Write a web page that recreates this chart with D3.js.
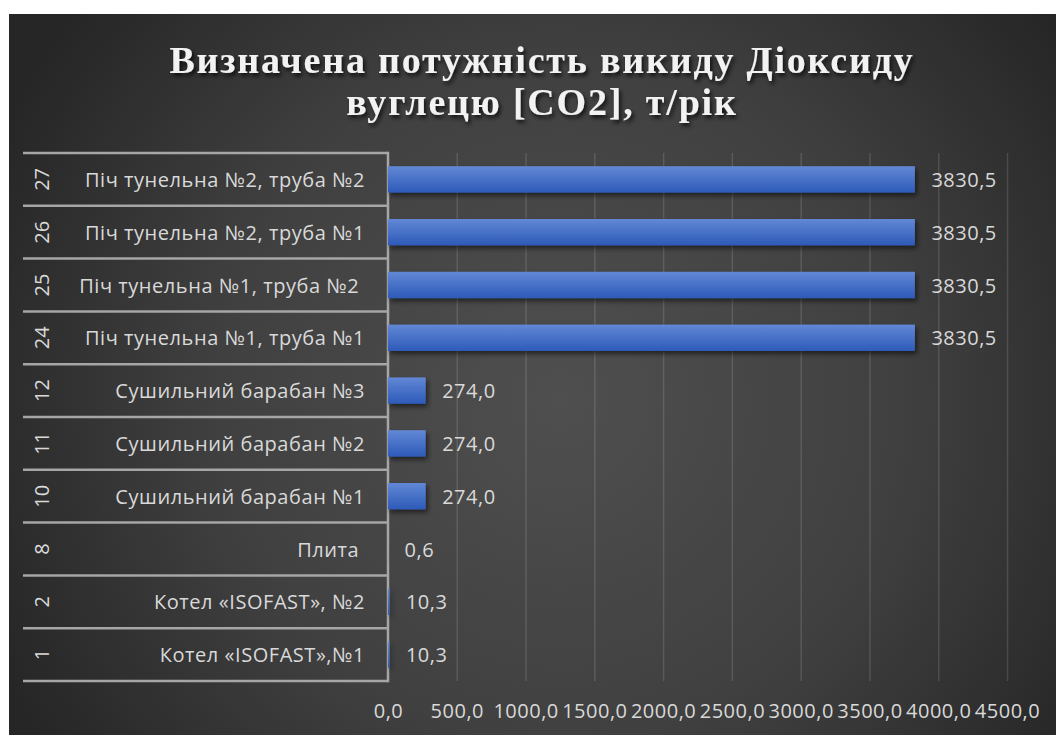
<!DOCTYPE html>
<html>
<head>
<meta charset="utf-8">
<script src="https://cdn.jsdelivr.net/npm/d3@7"></script>
<style>
  html, body { margin: 0; padding: 0; background: #ffffff; }
  svg { display: block; }
  .lbl { font-family: "Open Sans", sans-serif; fill: #d9d9d9; }
</style>
</head>
<body>
<svg id="chart" width="1056" height="735"></svg>
<script>
// Source numbers, top row first
const codes = ["27", "26", "25", "24", "12", "11", "10", "8", "2", "1"];
const names = [
  "Піч тунельна №2, труба №2",
  "Піч тунельна №2, труба №1",
  "Піч тунельна №1, труба №2 ",
  "Піч тунельна №1, труба №1",
  "Сушильний барабан №3",
  "Сушильний барабан №2",
  "Сушильний барабан №1",
  "Плита ",
  "Котел «ISOFAST», №2",
  "Котел «ISOFAST»,№1"
];
const values = [3830.5, 3830.5, 3830.5, 3830.5, 274.0, 274.0, 274.0, 0.6, 10.3, 10.3];
const xTicks = [0, 500, 1000, 1500, 2000, 2500, 3000, 3500, 4000, 4500];
const titleLines = ["Визначена потужність викиду Діоксиду", "вуглецю [CO2], т/рік"];

const locale = d3.formatLocale({ decimal: ",", thousands: "", grouping: [3], currency: ["", ""] });
const fmt = locale.format(".1f");

const W = 1056, H = 735;
const svg = d3.select("#chart");
const defs = svg.append("defs");

// dark backdrop with a soft lighter centre
const bg = defs.append("radialGradient").attr("id", "bg")
  .attr("gradientUnits", "userSpaceOnUse")
  .attr("cx", 560).attr("cy", 400).attr("r", 620);
bg.append("stop").attr("offset", "0%").attr("stop-color", "#4f4f4f");
bg.append("stop").attr("offset", "55%").attr("stop-color", "#404040");
bg.append("stop").attr("offset", "100%").attr("stop-color", "#262626");

const barGrad = defs.append("linearGradient").attr("id", "barGrad")
  .attr("x1", 0).attr("y1", 0).attr("x2", 0).attr("y2", 1);
barGrad.append("stop").attr("offset", "0%").attr("stop-color", "#6288d6");
barGrad.append("stop").attr("offset", "100%").attr("stop-color", "#2d5ab8");

const shadow = defs.append("filter").attr("id", "barShadow")
  .attr("x", "-10%").attr("y", "-30%").attr("width", "130%").attr("height", "180%");
shadow.append("feDropShadow").attr("dx", 2).attr("dy", 3).attr("stdDeviation", 2.5)
  .attr("flood-color", "#000").attr("flood-opacity", 0.55);

const tShadow = defs.append("filter").attr("id", "titleShadow")
  .attr("x", "-5%").attr("y", "-30%").attr("width", "110%").attr("height", "170%");
tShadow.append("feDropShadow").attr("dx", 2).attr("dy", 3).attr("stdDeviation", 2)
  .attr("flood-color", "#000").attr("flood-opacity", 0.75);

svg.append("rect").attr("x", 9).attr("y", 14).attr("width", W - 9).attr("height", H - 14)
  .attr("fill", "url(#bg)");

// title
svg.append("g").attr("filter", "url(#titleShadow)")
  .selectAll("text").data(titleLines).join("text")
  .attr("x", 542).attr("y", (d, i) => 73 + i * 42)
  .attr("text-anchor", "middle")
  .attr("font-family", "'Liberation Serif', 'Times New Roman', serif")
  .attr("font-weight", "bold")
  .attr("font-size", 38)
  .attr("letter-spacing", 1.8)
  .attr("fill", "#f2f2f2")
  .text(d => d);

// scales
const plotTop = 153, plotBottom = 681, tableLeft = 23;
const x = d3.scaleLinear().domain([0, 4500]).range([388, 1007]);
const y = d3.scaleBand().domain(codes).range([plotTop, plotBottom]).padding(0);
const barH = y.bandwidth() * 0.5;

// vertical gridlines
svg.append("g")
  .attr("transform", `translate(0,${plotBottom})`)
  .call(d3.axisBottom(x).tickValues(xTicks.slice(1)).tickSize(-(plotBottom - plotTop)).tickFormat(""))
  .call(g => g.select(".domain").remove())
  .call(g => g.selectAll(".tick line").attr("stroke", "#ffffff").attr("stroke-opacity", 0.13).attr("stroke-width", 1.5));

// tick labels
svg.append("g")
  .attr("transform", `translate(0,${plotBottom})`)
  .call(d3.axisBottom(x).tickValues(xTicks).tickSize(0).tickPadding(23).tickFormat(fmt))
  .call(g => g.select(".domain").remove())
  .call(g => g.selectAll("text").attr("class", "lbl").attr("font-size", 20).attr("letter-spacing", 0.5));

// category table on the left
const table = svg.append("g");
const lineY = d3.range(codes.length + 1).map(i => plotTop + i * y.step());
table.selectAll("line.row").data(lineY).join("line")
  .attr("class", "row")
  .attr("x1", tableLeft).attr("x2", x(0))
  .attr("y1", d => d).attr("y2", d => d)
  .attr("stroke", "#a6a6a6").attr("stroke-width", 2.5);
table.append("line")
  .attr("x1", x(0)).attr("x2", x(0))
  .attr("y1", plotTop - 1.25).attr("y2", plotBottom + 1.25)
  .attr("stroke", "#a6a6a6").attr("stroke-width", 2.5);

table.selectAll("text.name").data(names).join("text")
  .attr("class", "lbl name")
  .attr("x", 365)
  .attr("y", (d, i) => y(codes[i]) + y.bandwidth() / 2)
  .attr("text-anchor", "end")
  .attr("dominant-baseline", "central")
  .attr("font-size", 20)
  .attr("letter-spacing", 0.55)
  .style("white-space", "pre")
  .text(d => d);

table.selectAll("text.code").data(codes).join("text")
  .attr("class", "lbl code")
  .attr("transform", d => `translate(41,${y(d) + y.bandwidth() / 2}) rotate(-90)`)
  .attr("text-anchor", "middle")
  .attr("dominant-baseline", "central")
  .attr("font-size", 20)
  .text(d => d);

// bars
svg.append("g").attr("filter", "url(#barShadow)")
  .selectAll("rect").data(values).join("rect")
  .attr("x", x(0))
  .attr("y", (d, i) => y(codes[i]) + (y.bandwidth() - barH) / 2)
  .attr("width", d => x(d) - x(0))
  .attr("height", barH)
  .attr("fill", "url(#barGrad)");

// value labels
svg.append("g").selectAll("text").data(values).join("text")
  .attr("class", "lbl")
  .attr("x", d => x(d) + 16.5)
  .attr("y", (d, i) => y(codes[i]) + y.bandwidth() / 2)
  .attr("dominant-baseline", "central")
  .attr("font-size", 20)
  .attr("letter-spacing", 0.5)
  .text(d => fmt(d));
</script>
</body>
</html>
